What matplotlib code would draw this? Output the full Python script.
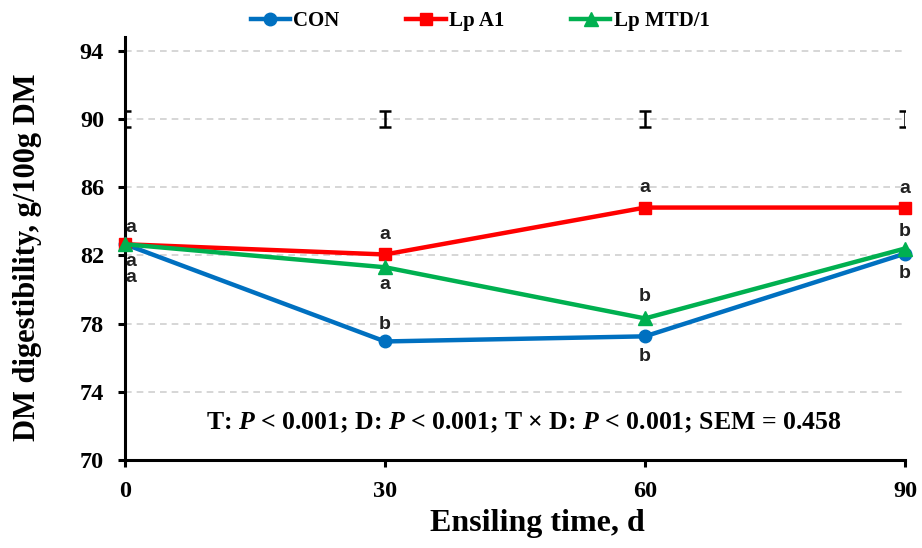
import matplotlib
matplotlib.use("Agg")
import matplotlib.pyplot as plt

# Donnees
days = [0, 30, 60, 90]
con = [82.65, 76.95, 77.25, 82.1]
lp_a1 = [82.65, 82.05, 84.8, 84.8]
lp_mtd = [82.65, 81.3, 78.3, 82.4]
sem = 0.458
err_y = 90

# lettres de significativite : (x, y, texte)
letters = [
    (0.7, 83.65, 'a'), (0.7, 81.65, 'a'), (0.7, 80.7, 'a'),
    (30, 83.2, 'a'), (30, 80.3, 'a'), (30, 77.95, 'b'),
    (60, 85.95, 'a'), (60, 79.6, 'b'), (60, 76.05, 'b'),
    (90, 85.9, 'a'), (90, 83.4, 'b'), (90, 80.95, 'b'),
]

plt.rcParams['font.family'] = 'Liberation Serif'
plt.rcParams['mathtext.fontset'] = 'custom'
plt.rcParams['mathtext.rm'] = 'Liberation Serif:bold'
plt.rcParams['mathtext.it'] = 'Liberation Serif:italic:bold'

fig = plt.figure(figsize=(9.22, 5.48), dpi=100)
ax = fig.add_axes([125/922, 1-460/548, 780/922, 423/548])

ax.plot(days, con, '-o', color='#0070C0', lw=3.2, ms=9, label='CON', clip_on=False, zorder=3)
ax.plot(days, lp_a1, '-s', color='#FF0000', lw=3.2, ms=8.5, label='Lp A1', clip_on=False, zorder=3)
ax.plot(days, lp_mtd, '-^', color='#00B050', lw=3.2, ms=10, label='Lp MTD/1', clip_on=False, zorder=4)

ax.errorbar(days, [err_y]*4, yerr=sem, fmt='none', ecolor='k', elinewidth=1.8, capsize=4, capthick=1.8)

for x, y, t in letters:
    ax.text(x, y, t, ha='center', va='center', fontsize=14, fontweight='bold',
            family='Liberation Sans', color='#222222')

ax.text(46, 72.2, 'T: $P$ < 0.001; D: $P$ < 0.001; T $\\times$ D: $P$ < 0.001; SEM = 0.458',
        ha='center', va='center', fontsize=18.5, fontweight='bold')

ax.set_xlim(0, 90)
ax.set_ylim(70, 94.8)
ax.set_xticks(days)
ax.set_yticks([70, 74, 78, 82, 86, 90, 94])
ax.yaxis.grid(True, linestyle=(0, (4, 3)), color='#cfcfcf', lw=1.2)
ax.set_axisbelow(True)
for s in ['top', 'right']:
    ax.spines[s].set_visible(False)
for s in ['left', 'bottom']:
    ax.spines[s].set_linewidth(2.2)
ax.tick_params(width=2.2, length=5, labelsize=17.5, pad=10)
for lab in ax.get_xticklabels() + ax.get_yticklabels():
    lab.set_fontweight('bold')

ax.set_xlabel('Ensiling time, d', fontsize=23, fontweight='bold', va='center')
ax.set_ylabel('DM digestibility, g/100g DM', fontsize=22, fontweight='bold', va='center')
ax.xaxis.set_label_coords((537-125)/780, -(524-460)/423)
ax.yaxis.set_label_coords(-(125-28)/780, (460-257)/423)

leg = fig.legend(loc='center', bbox_to_anchor=(480/922, 1-21/548), ncol=3, frameon=False,
                 prop={'weight': 'bold', 'size': 15}, handlelength=1.9, columnspacing=3.2,
                 handletextpad=0.15)

fig.savefig('out.png', dpi=100)
